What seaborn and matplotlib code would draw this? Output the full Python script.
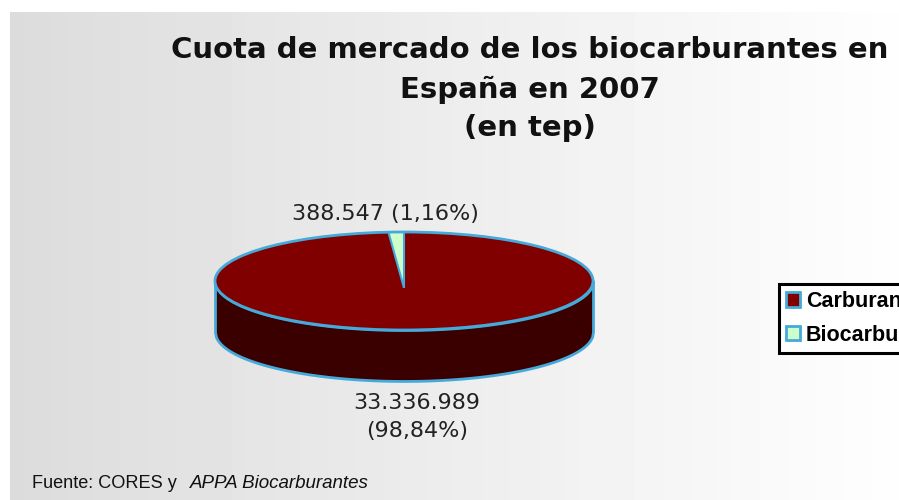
import numpy as np
import matplotlib
matplotlib.use('Agg')
import matplotlib.pyplot as plt
from matplotlib.patches import Ellipse, Patch
import seaborn as sns

# ========== Data ==========
categories = ['Carburantes', 'Biocarburantes']
values = [33336989, 388547]
value_labels = ['33.336.989', '388.547']
percent_labels = ['98,84%', '1,16%']
title_lines = ['Cuota de mercado de los biocarburantes en', 'España en 2007', '(en tep)']

# ========== Colours ==========
RED = '#800000'
WALL = '#3a0000'
LIGHT = '#ccffcc'
RIM = '#45a9da'

sns.set_theme(style='white')
W, H = 899, 500
fig = plt.figure(figsize=(W / 100, H / 100), dpi=100, facecolor='white')


def px(x, y):
    return x / W, 1 - y / H


# ========== Background gradient ==========
bg = fig.add_axes([10 / W, 0, 1 - 10 / W, 1 - 12 / H])
bg.imshow(np.linspace(220, 254, 64).reshape(1, -1), cmap='gray', vmin=0, vmax=255, aspect='auto')
bg.axis('off')

# ========== Pie ==========
cx, cy, rx, ry = 404, 281, 189, 49
depth = 1.04
y_top, y_bottom = 1.25, -2.5
ax = fig.add_axes([(cx - 1.25 * rx) / W, 1 - (cy + y_bottom * -ry) / H,
                   2.5 * rx / W, (y_top - y_bottom) * ry / H])
ax.patch.set_alpha(0)

edge_x = np.linspace(-1, 1, 400)
edge_y = -np.sqrt(1 - edge_x ** 2)
ax.fill_between(edge_x, edge_y, edge_y - depth, facecolor=WALL, edgecolor=RIM, linewidth=2, zorder=1)

wedges, _ = ax.pie([values[1], values[0]], colors=[RED, RED], startangle=90, radius=1,
                   wedgeprops={'linewidth': 0, 'zorder': 2})
rim = Ellipse((0, 0), 2, 2, facecolor='none', edgecolor=RIM, linewidth=2, zorder=4, clip_on=False)
ax.add_patch(rim)

# the small slice has its tip a bit below the centre of the top face
slices, _ = ax.pie([values[1], values[0]], colors=[LIGHT, 'none'], startangle=90, radius=1.3,
                   center=(0, -0.14), wedgeprops={'linewidth': 1.5, 'edgecolor': RIM, 'zorder': 3})
slices[1].set_visible(False)
slices[0].set_clip_on(True)
slices[0].set_clip_path(Ellipse((0, 0), 2, 2, transform=ax.transData))

ax.set_aspect('auto')
ax.set_xlim(-1.25, 1.25)
ax.set_ylim(y_bottom, y_top)
ax.axis('off')

# ========== Text ==========
for line, y in zip(title_lines, [50.5, 89.5, 128.5]):
    x0, y0 = px(529.5, y)
    fig.text(x0, y0, line, ha='center', va='center', fontsize=21, fontweight='bold',
             color='#111111', family='DejaVu Sans')

x0, y0 = px(385.5, 214)
fig.text(x0, y0, f'{value_labels[1]} ({percent_labels[1]})', ha='center', va='center',
         fontsize=16, color='#222222', family='DejaVu Sans')
x0, y0 = px(417, 403)
fig.text(x0, y0, value_labels[0], ha='center', va='center', fontsize=16, color='#222222', family='DejaVu Sans')
x0, y0 = px(417, 431)
fig.text(x0, y0, f'({percent_labels[0]})', ha='center', va='center', fontsize=16, color='#222222', family='DejaVu Sans')

x0, y0 = px(32, 483)
fig.text(x0, y0, 'Fuente: CORES y', ha='left', va='center', fontsize=13.1, color='#111111', family='Liberation Sans')
x0, y0 = px(190, 483)
fig.text(x0, y0, 'APPA Biocarburantes', ha='left', va='center', fontsize=13.5, style='italic',
         color='#111111', family='Liberation Sans')

# ========== Legend ==========
handles = [Patch(facecolor=RED, edgecolor=RIM, linewidth=2, label=categories[0]),
           Patch(facecolor=LIGHT, edgecolor=RIM, linewidth=2, label=categories[1])]
leg = fig.legend(handles=handles, loc='upper left', bbox_to_anchor=px(779, 284), ncol=1,
                 prop={'family': 'Liberation Sans', 'weight': 'bold', 'size': 15.5},
                 labelcolor='black', frameon=True, fancybox=False, framealpha=1, edgecolor='black',
                 handlelength=0.66, handleheight=0.66, handletextpad=0.25, labelspacing=0.58,
                 borderpad=0.33, borderaxespad=0)
leg.get_frame().set_linewidth(2.2)

fig.savefig('out.png', dpi=100)
